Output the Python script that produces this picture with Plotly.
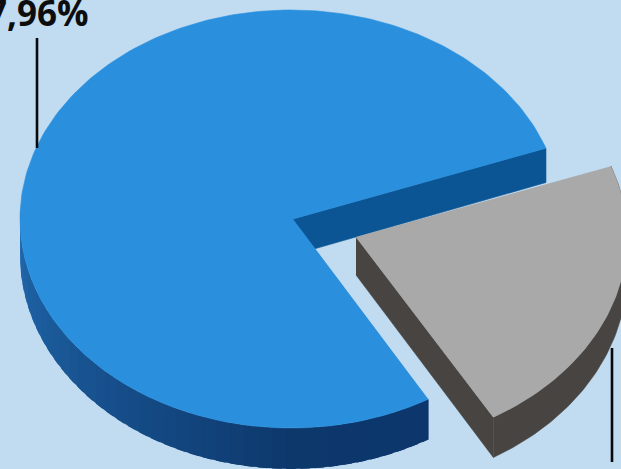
import numpy as np
import plotly.graph_objects as go

# Data
labels = ["Blue share", "Grey share"]
shares = [77.96, 22.04]
label_text = "7,96%"

# Colours
BG = "#c1dbf1"
BLUE_TOP = "#2a90de"
BLUE_CUT = "#0b5594"
BLUE_WALL_STOPS = [(180, (32, 104, 172)), (230, (22, 78, 138)), (270, (13, 56, 108)), (301, (12, 54, 108))]
GREY_TOP = "#a9a9a9"
GREY_WALL = "#474442"

# Projection of the pie
APEX_X, CX, CY, RX, RY = 293.0, 291.0, 219.0, 271.0, 209.0
DEPTH, RY_GROW = 36.0, 5.0
START_DEG = 19.8
OFFSET = (65.0, 18.0)
APEX_OFFSET_X = 63.0


def top_pt(a, ox=0.0, oy=0.0):
    t = np.radians(a)
    return CX + ox + RX * np.cos(t), CY + oy - RY * np.sin(t)


def low_pt(a, ox=0.0, oy=0.0):
    t = np.radians(a)
    return CX + ox + RX * np.cos(t), CY + oy + DEPTH - (RY + RY_GROW) * np.sin(t)


def poly(fig, xs, ys, color, lw=0.6):
    fig.add_trace(go.Scatter(x=list(xs), y=list(ys), mode="lines", fill="toself",
                             fillcolor=color, line=dict(color=color, width=lw),
                             hoverinfo="skip", showlegend=False))


def wall_color(a):
    a = a % 360
    st = BLUE_WALL_STOPS
    if a <= st[0][0]:
        return "rgb(%d,%d,%d)" % st[0][1]
    for (a0, c0), (a1, c1) in zip(st, st[1:]):
        if a <= a1:
            f = (a - a0) / (a1 - a0)
            return "rgb(%d,%d,%d)" % tuple(round(p + (q - p) * f) for p, q in zip(c0, c1))
    return "rgb(%d,%d,%d)" % st[-1][1]


fig = go.Figure()

# Sweep of each slice comes from the shares
blue_sweep = 360.0 * shares[0] / sum(shares)
grey_sweep = 360.0 * shares[1] / sum(shares)
blue_a0 = START_DEG
blue_a1 = START_DEG + blue_sweep
grey_a0 = blue_a1
grey_a1 = grey_a0 + grey_sweep

# Blue: rim wall in shaded, overlapping segments (only the front half can show)
edges = np.arange(176.0, blue_a1, 3.0).tolist() + [blue_a1]
for a, b in zip(edges, edges[1:]):
    bb = min(b + 2.0, blue_a1)
    arc = np.linspace(a, bb, 6)
    upper = [top_pt(v) for v in arc]
    lower = [low_pt(v) for v in arc[::-1]]
    p = upper + lower
    poly(fig, [q[0] for q in p], [q[1] for q in p], wall_color((a + b) / 2), lw=0)

# Blue: cut face
c0, c1 = top_pt(blue_a0), low_pt(blue_a0)
poly(fig, [APEX_X, c0[0], c1[0], APEX_X], [CY, c0[1], c1[1], CY + DEPTH], BLUE_CUT)

# Blue: top face
arc = np.linspace(blue_a0, blue_a1, 240)
pts = [top_pt(a) for a in arc]
poly(fig, [APEX_X] + [q[0] for q in pts], [CY] + [q[1] for q in pts], BLUE_TOP)

# Grey: walls
ox, oy = OFFSET
arc = np.linspace(grey_a0, grey_a1, 90)
tops = [top_pt(a, ox, oy) for a in arc]
lows = [low_pt(a, ox, oy) for a in arc]
apex = (APEX_X + APEX_OFFSET_X, CY + oy)
apex_low = (APEX_X + APEX_OFFSET_X, CY + oy + DEPTH + 2)
poly(fig, [q[0] for q in tops] + [q[0] for q in lows[::-1]],
     [q[1] for q in tops] + [q[1] for q in lows[::-1]], GREY_WALL)
g0, g1 = tops[0], lows[0]
poly(fig, [apex[0], g0[0], g1[0], apex_low[0]], [apex[1], g0[1], g1[1], apex_low[1]], GREY_WALL)

# Grey: top face
poly(fig, [apex[0]] + [q[0] for q in tops], [apex[1]] + [q[1] for q in tops], GREY_TOP)

fig.update_layout(
    width=621, height=469, autosize=False,
    margin=dict(l=0, r=0, t=0, b=0),
    paper_bgcolor=BG, plot_bgcolor=BG,
    showlegend=False,
    xaxis=dict(range=[0, 621], visible=False, fixedrange=True),
    yaxis=dict(range=[469, 0], visible=False, fixedrange=True),
    shapes=[
        dict(type="line", x0=37, x1=37, y0=38, y1=148, xref="x", yref="y",
             line=dict(color="#0a0a0a", width=2.6)),
        dict(type="line", x0=612, x1=612, y0=348, y1=462, xref="x", yref="y",
             line=dict(color="#0a0a0a", width=2.6)),
    ],
    annotations=[dict(
        x=91, y=27, xref="x", yref="y", xanchor="right", yanchor="bottom", showarrow=False,
        text="<b>%s</b>" % label_text, yshift=-11,
        font=dict(family="Open Sans", size=35, color="#0d0d0d"),
    )],
)

fig.write_html("out.html", config=dict(displayModeBar=False),
               post_script="document.body.style.margin='0';document.body.style.background='%s';" % BG)
